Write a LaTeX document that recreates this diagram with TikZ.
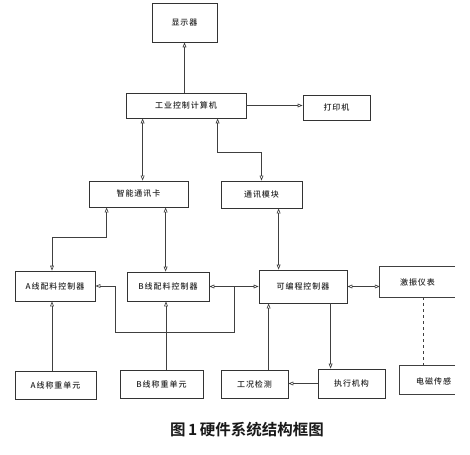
\documentclass[tikz,border=0pt]{standalone}
\usepackage{fontspec}
\newfontfamily\cjk[LetterSpace=12]{Noto Sans CJK SC Medium}
\newfontfamily\cjkcap{Noto Sans CJK SC Bold}
\usetikzlibrary{arrows.meta,calc}
\begin{document}
\begin{tikzpicture}[x=1pt,y=-1pt,
  box/.style={draw=black!80,line width=0.8pt,rectangle,inner sep=0pt,font=\cjk\fontsize{8}{9}\selectfont,text=black!85},
  nobox/.style={draw=none,rectangle,inner sep=0pt,font=\cjk\fontsize{8}{9}\selectfont,text=black!85},
  ln/.style={draw=black!75,line width=0.65pt},
  tipend/.style={ln,-{Triangle[open,length=5pt,width=3.8pt]}},
  tipstart/.style={ln,{Triangle[open,length=5pt,width=3.8pt]}-},
  tipboth/.style={ln,{Triangle[open,length=5pt,width=3.8pt]}-{Triangle[open,length=5pt,width=3.8pt]}},
  dashln/.style={ln,dashed}]
\useasboundingbox[fill=white] (0,0) rectangle (470,454);

\node[box,minimum width=65pt,minimum height=39pt] (disp) at (184.5,22.5) {显示器};
\node[box,minimum width=120pt,minimum height=25pt] (ipc) at (186,105.5) {工业控制计算机};
\node[box,minimum width=67pt,minimum height=25pt] (prn) at (336.5,107.5) {打印机};
\node[box,minimum width=99pt,minimum height=26pt] (card) at (138.5,194) {智能通讯卡};
\node[box,minimum width=81pt,minimum height=27pt] (mod) at (261.5,194.5) {通讯模块};
\node[box,minimum width=80pt,minimum height=30pt] (actA) at (55,286) {A线配料控制器};
\node[box,minimum width=82pt,minimum height=29pt] (actB) at (168,286.5) {B线配料控制器};
\node[box,minimum width=88pt,minimum height=33pt] (plc) at (303,286.5) {可编程控制器};
\node[nobox,minimum width=75pt,minimum height=30pt] (vib) at (417.5,282) {激振仪表};
\node[box,minimum width=81pt,minimum height=28pt] (wA) at (55.5,385) {A线称重单元};
\node[box,minimum width=83pt,minimum height=28pt] (wB) at (161.5,384) {B线称重单元};
\node[box,minimum width=67pt,minimum height=28pt] (gk) at (254.5,384) {工况检测};
\node[box,minimum width=67pt,minimum height=29pt] (zx) at (351.5,383.5) {执行机构};
\node[nobox,minimum width=55pt,minimum height=28pt] (em) at (427.5,380) {};
\node[nobox,anchor=west] (emt) at (416,381) {电磁传感};
\node[font=\cjkcap\fontsize{15.5}{17}\selectfont,text=black!90] (cap) at (247,430) {图\,1\,硬件系统结构框图};

\draw[ln,line width=0.8pt] (vib.north east) -- (vib.north west) -- (vib.south west) -- (vib.south east);
\draw[ln,line width=0.8pt] (em.north east) -- (em.north west) -- (em.south west) -- (em.south east);

\draw[tipend] (ipc.north -| disp.south) -- (disp.south);
\draw[tipend] (ipc.east) -- (ipc.east -| prn.west);
\draw[tipboth] ([xshift=17pt]ipc.south west) -- ([xshift=17pt]ipc.south west |- card.north);
\draw[tipboth] ([xshift=92pt]ipc.south west) -- ++(0,34) -| (mod.north);
\draw[tipboth] ([xshift=18pt]card.south west) -- ++(0,30) -| ([xshift=-3pt]actA.north);
\draw[tipboth] ([xshift=77pt]card.south west) -- ([xshift=77pt]card.south west |- actB.north);
\draw[tipboth] ([xshift=58pt]mod.south west) -- ([xshift=58pt]mod.south west |- plc.north);
\draw[tipboth] (actB.east) -- (actB.east -| plc.west);
\draw[tipstart] (actA.east) -- ++(20,0) -- ++(0,46) -| ($(actB.east)!0.5!(plc.west)$);
\draw[tipstart] ([xshift=-3pt]actA.south) -- ([xshift=-3pt]actA.south |- wA.north);
\draw[tipstart] ([xshift=-2pt]actB.south) -- ([xshift=-2pt]actB.south |- wB.north);
\draw[tipstart] ([xshift=10pt]plc.south west) -- ([xshift=10pt]plc.south west |- gk.north);
\draw[tipend] ([xshift=72pt]plc.south west) -- ([xshift=72pt]plc.south west |- zx.north);
\draw[tipend] (zx.west) -- (zx.west -| gk.east);
\draw[tipboth] (plc.east) -- (plc.east -| vib.west);
\draw[dashln] ([xshift=6pt]vib.south) -- ([xshift=6pt]vib.south |- em.north);
\end{tikzpicture}
\end{document}
